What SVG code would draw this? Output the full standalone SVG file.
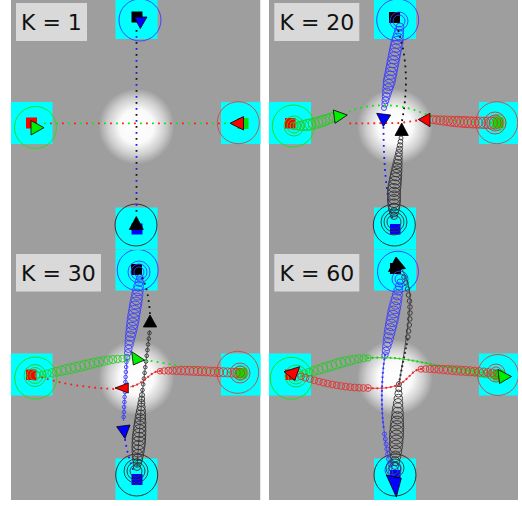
<svg xmlns="http://www.w3.org/2000/svg" width="522" height="506" viewBox="0 0 522 506">
<style>
.bg{fill:#9e9e9e}
.cy{fill:#00ffff}
.lbl rect{fill:#d9d9d9}
.lbl text{font-family:"DejaVu Sans","Liberation Sans",sans-serif;font-size:22px;fill:#111}
.cb{fill:none;stroke:#3b3bff;stroke-width:.9}
.cg{fill:none;stroke:#22cc22;stroke-width:.9}
.cr{fill:none;stroke:#e53030;stroke-width:.9}
.ck{fill:none;stroke:#333;stroke-width:.9}
.Bb{fill:none;stroke:#4444ff;stroke-width:1}
.Bg{fill:none;stroke:#22dd22;stroke-width:1}
.Br{fill:none;stroke:#c05555;stroke-width:1}
.Bk{fill:none;stroke:#333;stroke-width:1}
.qb{fill:#0000ff}.qg{fill:#00e000}.qr{fill:#ff0000}.qk{fill:#000}
.t{stroke:#000;stroke-width:.8;stroke-linejoin:round}
.tb{fill:#0000ff}.tg{fill:#00ee00}.tr{fill:#ff0000}.tk{fill:#000}
.d{fill:none;stroke-width:1.8;stroke-dasharray:1.8 4.2}
.db{stroke:#1a1aff}.dg{stroke:#00ee00}.dr{stroke:#ff1a1a}.dk{stroke:#111}
.l{fill:none;stroke-width:.8}
.p{fill:none;stroke-width:2.3;stroke-linecap:round;stroke-dasharray:0 4.5}
</style>
<defs>
<radialGradient id="glow">
<stop offset="0" stop-color="#fff"/>
<stop offset="0.45" stop-color="#fff" stop-opacity="0.95"/>
<stop offset="0.75" stop-color="#fff" stop-opacity="0.5"/>
<stop offset="1" stop-color="#fff" stop-opacity="0"/>
</radialGradient>
<clipPath id="cTL"><rect x="11" y="0" width="249.5" height="250"/></clipPath>
<clipPath id="cTR"><rect x="269" y="0" width="249" height="250"/></clipPath>
<clipPath id="cBL"><rect x="11" y="250" width="249.5" height="250"/></clipPath>
<clipPath id="cBR"><rect x="269" y="250" width="249" height="250"/></clipPath>
</defs>
<rect width="522" height="506" fill="#fff"/>

<!-- ================= K = 1 ================= -->
<g id="panel-k1" clip-path="url(#cTL)">
<rect class="bg" x="11" y="0" width="249.5" height="250"/>
<circle cx="136.5" cy="126.5" r="38" fill="url(#glow)"/>
<g id="k1-top"><rect class="cy" x="115.5" y="-3" width="42" height="42"/><circle class="Bb" cx="140" cy="20" r="21"/><rect class="qk" x="131.5" y="11.5" width="11" height="11"/></g>
<g id="k1-left"><rect class="cy" x="10.5" y="102" width="42" height="42"/><circle class="Bg" cx="35.5" cy="127.5" r="21"/><rect class="qr" x="26" y="117.5" width="11" height="11"/></g>
<g id="k1-right"><rect class="cy" x="221" y="102" width="42" height="42"/><circle class="Br" cx="238.3" cy="122.7" r="21"/><rect class="qg" x="237.5" y="118" width="11" height="11"/></g>
<g id="k1-bottom"><rect class="cy" x="115.5" y="207.5" width="42" height="42"/><circle class="Bk" cx="136" cy="225" r="21"/><rect class="qb" x="131.5" y="223.5" width="11" height="11"/></g>
<g id="k1-connectors">
<path class="d dk" d="M136.5,30 V216" style="stroke-dasharray:1.8 10.2"/>
<path class="d db" d="M136.5,30 V216" style="stroke-dasharray:1.8 10.2;stroke-dashoffset:6"/>
<path class="d dg" d="M44,123.3 H230" style="stroke-dasharray:1.8 10.2"/>
<path class="d dr" d="M44,123.3 H230" style="stroke-dasharray:1.8 10.2;stroke-dashoffset:6"/>
</g>
<g id="k1-agents">
<polygon class="t tb" points="134.3,17 147,17 140.3,28.5"/>
<polygon class="t tg" points="31,120.5 31,135 44,127.7"/>
<polygon class="t tr" points="230,123.3 243.5,116.5 243.5,130"/>
<polygon class="t tk" points="129.3,229.5 143.3,229.5 136.3,216.5"/>
</g>
<g id="label-k1" class="lbl"><rect x="16" y="3" width="71" height="38"/><text x="21" y="30">K = 1</text></g>
</g>

<!-- ================= K = 20 ================= -->
<g id="panel-k20" clip-path="url(#cTR)">
<rect class="bg" x="269" y="0" width="249" height="250"/>
<circle cx="395" cy="126.5" r="38" fill="url(#glow)"/>
<g id="k20-top"><rect class="cy" x="374" y="-3" width="42" height="42"/><circle class="Bb" cx="397.7" cy="20" r="21"/><rect class="qk" x="389" y="12" width="11" height="11"/></g>
<g id="k20-left"><rect class="cy" x="269" y="102" width="42" height="42"/><circle class="Bg" cx="293.3" cy="126" r="21"/><rect class="qr" x="285" y="118" width="10.5" height="10.5"/></g>
<g id="k20-right"><rect class="cy" x="479" y="102" width="42" height="42"/><circle class="Br" cx="496.7" cy="122.7" r="21"/><rect class="qg" x="493" y="117.5" width="10.5" height="10.5"/></g>
<g id="k20-bottom"><rect class="cy" x="374" y="207.5" width="42" height="42"/><circle class="Bk" cx="394.3" cy="225" r="21"/><rect class="qb" x="390" y="224" width="10.5" height="10.5"/></g>
<g id="k20-connectors">
<circle class="cb" cx="399" cy="21" r="6"/><circle class="cb" cx="399" cy="21" r="9"/>
<circle class="cb" cx="400" cy="27" r="4"/><circle class="cb" cx="399.2" cy="30.9" r="4.5"/><circle class="cb" cx="398.5" cy="34.7" r="5"/><circle class="cb" cx="397.7" cy="38.6" r="5.5"/><circle class="cb" cx="397" cy="42.4" r="6"/><circle class="cb" cx="396.2" cy="46.3" r="6"/><circle class="cb" cx="395.4" cy="50.1" r="6"/><circle class="cb" cx="394.7" cy="54" r="6"/><circle class="cb" cx="393.9" cy="57.9" r="6"/><circle class="cb" cx="393.1" cy="61.7" r="6"/><circle class="cb" cx="392.4" cy="65.6" r="6"/><circle class="cb" cx="391.6" cy="69.4" r="6"/><circle class="cb" cx="390.9" cy="73.3" r="6"/><circle class="cb" cx="390.1" cy="77.1" r="6"/><circle class="cb" cx="389.3" cy="81" r="6"/><circle class="cb" cx="388.6" cy="84.9" r="5.5"/><circle class="cb" cx="387.8" cy="88.7" r="5"/><circle class="cb" cx="387" cy="92.6" r="4.5"/><circle class="cb" cx="386.3" cy="96.4" r="4"/><circle class="cb" cx="385.5" cy="100.3" r="3.5"/><circle class="cb" cx="384.8" cy="104.1" r="3"/><circle class="cb" cx="384" cy="108" r="2.5"/>
<path class="d db" d="M383.5,127 C383.5,160 386,195 393,221"/>
<circle class="ck" cx="394" cy="222" r="7"/><circle class="ck" cx="394" cy="222" r="10"/><circle class="ck" cx="394" cy="222" r="13"/>
<circle class="ck" cx="394" cy="216" r="3.5"/><circle class="ck" cx="394" cy="212.3" r="4.5"/><circle class="ck" cx="394" cy="208.6" r="5.5"/><circle class="ck" cx="394" cy="204.9" r="6"/><circle class="ck" cx="394" cy="201.1" r="6.5"/><circle class="ck" cx="394" cy="197.4" r="6.5"/><circle class="ck" cx="394" cy="193.7" r="6.5"/><circle class="ck" cx="394" cy="190" r="6.5"/><circle class="ck" cx="394.5" cy="186.3" r="6.5"/><circle class="ck" cx="395" cy="182.6" r="6.2"/><circle class="ck" cx="395.5" cy="178.9" r="6"/><circle class="ck" cx="396" cy="175.1" r="5.7"/><circle class="ck" cx="396.5" cy="171.4" r="5.4"/><circle class="ck" cx="397" cy="167.7" r="5"/><circle class="ck" cx="397.5" cy="164" r="4.6"/><circle class="ck" cx="398" cy="160.3" r="4.2"/><circle class="ck" cx="398.5" cy="156.6" r="3.8"/><circle class="ck" cx="399" cy="152.9" r="3.4"/><circle class="ck" cx="399.5" cy="149.1" r="3"/><circle class="ck" cx="400" cy="145.4" r="2.7"/><circle class="ck" cx="400.5" cy="141.7" r="2.4"/><circle class="ck" cx="401" cy="138" r="2"/>
<path class="d dk" d="M402,121 C407,95 409,60 397,27"/>
<circle class="cg" cx="294" cy="126" r="4"/><circle class="cg" cx="294" cy="126" r="7"/><circle class="cg" cx="294" cy="126" r="10"/>
<circle class="cg" cx="297" cy="126" r="4"/><circle class="cg" cx="300.4" cy="125.8" r="4.5"/><circle class="cg" cx="303.7" cy="125.5" r="5"/><circle class="cg" cx="307.1" cy="125" r="5.5"/><circle class="cg" cx="310.5" cy="124.4" r="5.5"/><circle class="cg" cx="313.8" cy="123.6" r="5.5"/><circle class="cg" cx="317.2" cy="122.7" r="5.5"/><circle class="cg" cx="320.5" cy="121.7" r="5.5"/><circle class="cg" cx="323.9" cy="120.6" r="5.5"/><circle class="cg" cx="327.3" cy="119.4" r="5.2"/><circle class="cg" cx="330.6" cy="118.2" r="5"/><circle class="cg" cx="334" cy="117" r="4.8"/>
<path class="d dg" d="M349,112 C365,104 395,102 420,112 C440,120 470,123 495,123"/>
<circle class="cg" cx="498" cy="122.5" r="4"/><circle class="cg" cx="498" cy="122.5" r="6"/><circle class="cg" cx="498" cy="122.5" r="8"/>
<circle class="cr" cx="495" cy="123" r="8"/><circle class="cr" cx="495" cy="123" r="11"/>
<circle class="cr" cx="495" cy="123" r="6"/><circle class="cr" cx="491.4" cy="123" r="6"/><circle class="cr" cx="487.7" cy="122.9" r="5.8"/><circle class="cr" cx="484.1" cy="122.8" r="5.7"/><circle class="cr" cx="480.4" cy="122.7" r="5.6"/><circle class="cr" cx="476.8" cy="122.6" r="5.5"/><circle class="cr" cx="473.1" cy="122.5" r="5.5"/><circle class="cr" cx="469.5" cy="122.3" r="5.5"/><circle class="cr" cx="465.8" cy="122.1" r="5.5"/><circle class="cr" cx="462.2" cy="121.9" r="5.4"/><circle class="cr" cx="458.5" cy="121.7" r="5.3"/><circle class="cr" cx="454.9" cy="121.5" r="5.2"/><circle class="cr" cx="451.2" cy="121.2" r="5"/><circle class="cr" cx="447.6" cy="120.9" r="4.8"/><circle class="cr" cx="443.9" cy="120.6" r="4.6"/><circle class="cr" cx="440.3" cy="120.3" r="4.4"/><circle class="cr" cx="436.6" cy="120" r="4.2"/><circle class="cr" cx="433" cy="119.6" r="4"/>
<path class="d dr" d="M417,120.5 L400,123 L348,123.5"/>
</g>
<g id="k20-agents">
<polygon class="t tb" points="376.7,113.3 390.7,115 383.3,126.5"/>
<polygon class="t tk" points="395,135.5 408.3,135.5 401.7,123"/>
<polygon class="t tg" points="333.3,110 335,123.3 347.3,115"/>
<polygon class="t tr" points="418.3,119.5 430,113.3 430,126.7"/>
</g>
<g id="label-k20" class="lbl"><rect x="274.3" y="3" width="85" height="38"/><text x="279.5" y="30">K = 20</text></g>
</g>

<!-- ================= K = 30 ================= -->
<g id="panel-k30" clip-path="url(#cBL)">
<rect class="bg" x="11" y="250" width="249.5" height="250"/>
<circle cx="136.5" cy="377.5" r="38" fill="url(#glow)"/>
<g id="k30-top"><rect class="cy" x="115.5" y="248.5" width="42" height="42"/><circle class="Bb" cx="137.7" cy="270" r="20.5"/><rect class="qk" x="131" y="264" width="11" height="11"/></g>
<g id="k30-left"><rect class="cy" x="10.5" y="353.5" width="42" height="42"/><circle class="Bg" cx="35.7" cy="378" r="21"/><rect class="qr" x="26" y="369.5" width="10.5" height="10.5"/></g>
<g id="k30-right"><rect class="cy" x="221" y="353.5" width="42" height="42"/><circle class="Br" cx="237.7" cy="372.3" r="21"/><rect class="qg" x="236" y="368" width="10.5" height="10.5"/></g>
<g id="k30-bottom"><rect class="cy" x="115.5" y="458.5" width="42" height="42"/><circle class="Bk" cx="136.7" cy="475" r="21"/><rect class="qb" x="131.5" y="474" width="11" height="11"/></g>
<g id="k30-connectors">
<circle class="cb" cx="139" cy="272" r="5"/><circle class="cb" cx="139" cy="272" r="8"/><circle class="cb" cx="139" cy="272" r="11"/>
<circle class="cb" cx="140" cy="278" r="3.5"/><circle class="cb" cx="139.3" cy="282.2" r="4.2"/><circle class="cb" cx="138.6" cy="286.3" r="4.8"/><circle class="cb" cx="137.9" cy="290.5" r="5.3"/><circle class="cb" cx="137.3" cy="294.6" r="5.6"/><circle class="cb" cx="136.6" cy="298.8" r="5.8"/><circle class="cb" cx="135.9" cy="303" r="6"/><circle class="cb" cx="135.2" cy="307.1" r="6"/><circle class="cb" cx="134.5" cy="311.3" r="6"/><circle class="cb" cx="133.8" cy="315.4" r="6"/><circle class="cb" cx="133.2" cy="319.6" r="6"/><circle class="cb" cx="132.5" cy="323.7" r="5.8"/><circle class="cb" cx="131.8" cy="327.9" r="5.6"/><circle class="cb" cx="131.1" cy="332.1" r="5.3"/><circle class="cb" cx="130.4" cy="336.2" r="5"/><circle class="cb" cx="129.7" cy="340.4" r="4.6"/><circle class="cb" cx="129.1" cy="344.5" r="4.2"/><circle class="cb" cx="128.4" cy="348.7" r="3.8"/><circle class="cb" cx="127.7" cy="352.8" r="3.3"/><circle class="cb" cx="127" cy="357" r="2.8"/>
<path class="l" stroke="#3b3bff" d="M127,357 L123.5,421"/>
<circle class="cb" cx="126.4" cy="362" r="1.8"/><circle class="cb" cx="126.1" cy="367" r="1.8"/><circle class="cb" cx="125.9" cy="372" r="1.8"/><circle class="cb" cx="125.6" cy="377" r="1.8"/><circle class="cb" cx="125.4" cy="382" r="1.8"/><circle class="cb" cx="125.1" cy="387" r="1.8"/><circle class="cb" cx="124.9" cy="392" r="1.8"/><circle class="cb" cx="124.6" cy="397" r="1.8"/><circle class="cb" cx="124.4" cy="402" r="1.8"/><circle class="cb" cx="124.1" cy="407" r="1.8"/><circle class="cb" cx="123.9" cy="412" r="1.8"/><circle class="cb" cx="123.6" cy="417" r="1.8"/>
<path class="d db" d="M125,439 C127,452 130,462 134,472"/>
<circle class="ck" cx="136" cy="471" r="6"/><circle class="ck" cx="136" cy="471" r="9"/><circle class="ck" cx="136" cy="471" r="12"/>
<circle class="ck" cx="137" cy="467" r="3.5"/><circle class="ck" cx="137.3" cy="463" r="4.2"/><circle class="ck" cx="137.6" cy="459" r="5"/><circle class="ck" cx="137.8" cy="455" r="5.6"/><circle class="ck" cx="138.1" cy="451" r="6.1"/><circle class="ck" cx="138.4" cy="447" r="6.5"/><circle class="ck" cx="138.7" cy="443" r="6.7"/><circle class="ck" cx="138.9" cy="439" r="6.7"/><circle class="ck" cx="139.2" cy="435" r="6.6"/><circle class="ck" cx="139.5" cy="431" r="6.4"/><circle class="ck" cx="139.8" cy="427" r="6.1"/><circle class="ck" cx="140.1" cy="423" r="5.8"/><circle class="ck" cx="140.3" cy="419" r="5.4"/><circle class="ck" cx="140.6" cy="415" r="5"/><circle class="ck" cx="140.9" cy="411" r="4.5"/><circle class="ck" cx="141.2" cy="407" r="4"/><circle class="ck" cx="141.4" cy="403" r="3.5"/><circle class="ck" cx="141.7" cy="399" r="3"/><circle class="ck" cx="142" cy="395" r="2.5"/>
<path class="l" stroke="#333" d="M137,467 L142,395 L149.8,330"/>
<circle class="ck" cx="142.5" cy="390" r="1.8"/><circle class="ck" cx="143.2" cy="384.3" r="1.8"/><circle class="ck" cx="143.9" cy="378.6" r="1.8"/><circle class="ck" cx="144.6" cy="372.9" r="1.8"/><circle class="ck" cx="145.3" cy="367.2" r="1.8"/><circle class="ck" cx="146" cy="361.5" r="1.8"/><circle class="ck" cx="146.7" cy="355.8" r="1.8"/><circle class="ck" cx="147.4" cy="350.1" r="1.8"/><circle class="ck" cx="148.1" cy="344.4" r="1.8"/><circle class="ck" cx="148.8" cy="338.7" r="1.8"/><circle class="ck" cx="149.5" cy="333" r="1.8"/>
<path class="d dk" d="M150,314 C149,300 147,285 141,276"/>
<circle class="cg" cx="35" cy="375.5" r="5"/><circle class="cg" cx="35" cy="375.5" r="8"/><circle class="cg" cx="35" cy="375.5" r="11"/>
<circle class="cg" cx="38" cy="375" r="3"/><circle class="cg" cx="42.7" cy="374.4" r="3.4"/><circle class="cg" cx="47.4" cy="373.6" r="3.8"/><circle class="cg" cx="52.1" cy="372.7" r="4.2"/><circle class="cg" cx="56.7" cy="371.7" r="4.5"/><circle class="cg" cx="61.4" cy="370.7" r="4.8"/><circle class="cg" cx="66.1" cy="369.6" r="5"/><circle class="cg" cx="70.8" cy="368.5" r="5"/><circle class="cg" cx="75.5" cy="367.4" r="5"/><circle class="cg" cx="80.2" cy="366.3" r="5"/><circle class="cg" cx="84.8" cy="365.2" r="5"/><circle class="cg" cx="89.5" cy="364.1" r="4.9"/><circle class="cg" cx="94.2" cy="363" r="4.8"/><circle class="cg" cx="98.9" cy="362" r="4.6"/><circle class="cg" cx="103.6" cy="361" r="4.4"/><circle class="cg" cx="108.3" cy="360.2" r="4.2"/><circle class="cg" cx="112.9" cy="359.5" r="4"/><circle class="cg" cx="117.6" cy="359" r="3.7"/><circle class="cg" cx="122.3" cy="358.6" r="3.4"/><circle class="cg" cx="127" cy="358.5" r="3.1"/>
<path class="d dg" d="M145,360 C170,364 200,369 236,373"/>
<circle class="cg" cx="241" cy="373" r="4"/><circle class="cg" cx="241" cy="373" r="7"/>
<circle class="cr" cx="240" cy="373" r="7"/><circle class="cr" cx="240" cy="373" r="10"/>
<circle class="cr" cx="240" cy="373" r="4.5"/><circle class="cr" cx="235.8" cy="372.8" r="4.5"/><circle class="cr" cx="231.6" cy="372.6" r="4.5"/><circle class="cr" cx="227.4" cy="372.4" r="4.5"/><circle class="cr" cx="223.2" cy="372.2" r="4.5"/><circle class="cr" cx="218.9" cy="372" r="4.5"/><circle class="cr" cx="214.7" cy="371.8" r="4.5"/><circle class="cr" cx="210.5" cy="371.6" r="4.5"/><circle class="cr" cx="206.3" cy="371.4" r="4.5"/><circle class="cr" cx="202.1" cy="371.2" r="4.5"/><circle class="cr" cx="197.9" cy="371" r="4.5"/><circle class="cr" cx="193.7" cy="370.9" r="4.5"/><circle class="cr" cx="189.5" cy="370.8" r="4.4"/><circle class="cr" cx="185.3" cy="370.7" r="4.3"/><circle class="cr" cx="181.1" cy="370.6" r="4.2"/><circle class="cr" cx="176.8" cy="370.6" r="4"/><circle class="cr" cx="172.6" cy="370.6" r="3.8"/><circle class="cr" cx="168.4" cy="370.7" r="3.5"/><circle class="cr" cx="164.2" cy="370.9" r="3.2"/><circle class="cr" cx="160" cy="371.2" r="2.8"/>
<path class="l" stroke="#e53030" d="M160,371 C150,371 145,384 130,387"/>
<path class="p" stroke="#e53030" d="M160,371 C150,371 145,384 130,387"/>
<path class="d dr" d="M114,389 C90,388 60,384 38,376"/>
</g>
<g id="k30-agents">
<polygon class="t tb" points="116.7,426.7 130,425 125,438.5"/>
<polygon class="t tk" points="143.3,327 156.7,327 150,315"/>
<polygon class="t tg" points="131.7,351.7 133.3,365 144.5,360"/>
<polygon class="t tr" points="115,388 128.3,383 128.3,393"/>
</g>
<g id="label-k30" class="lbl"><rect x="16" y="254" width="85" height="37.5"/><text x="21" y="281.3">K = 30</text></g>
</g>

<!-- ================= K = 60 ================= -->
<g id="panel-k60" clip-path="url(#cBR)">
<rect class="bg" x="269" y="250" width="249" height="250"/>
<circle cx="395" cy="377.5" r="38" fill="url(#glow)"/>
<g id="k60-top"><rect class="cy" x="374" y="248.5" width="42" height="42"/><circle class="Bb" cx="398" cy="271.7" r="20.5"/><rect class="qk" x="390" y="263" width="11" height="11"/></g>
<g id="k60-left"><rect class="cy" x="269" y="353.5" width="42" height="42"/><circle class="Bg" cx="291.3" cy="378.3" r="21"/><rect class="qr" x="285" y="369.5" width="10.5" height="10.5"/></g>
<g id="k60-right"><rect class="cy" x="479" y="353.5" width="42" height="42"/><circle class="Br" cx="498" cy="375" r="20.5"/><rect class="qg" x="493" y="370" width="10.5" height="10.5"/></g>
<g id="k60-bottom"><rect class="cy" x="374" y="458.5" width="42" height="42"/><circle class="Bk" cx="395" cy="475" r="21"/><rect class="qb" x="390" y="470" width="10.5" height="10.5"/></g>
<g id="k60-connectors">
<circle class="cb" cx="400" cy="279" r="5"/><circle class="cb" cx="400" cy="279" r="8"/>
<circle class="cb" cx="400" cy="282" r="3"/><circle class="cb" cx="399.1" cy="286.3" r="3.8"/><circle class="cb" cx="398.2" cy="290.6" r="4.5"/><circle class="cb" cx="397.4" cy="294.9" r="5"/><circle class="cb" cx="396.5" cy="299.2" r="5.4"/><circle class="cb" cx="395.6" cy="303.5" r="5.7"/><circle class="cb" cx="394.7" cy="307.8" r="5.9"/><circle class="cb" cx="393.8" cy="312" r="6"/><circle class="cb" cx="393" cy="316.3" r="6"/><circle class="cb" cx="392.1" cy="320.6" r="6"/><circle class="cb" cx="391.2" cy="324.9" r="5.8"/><circle class="cb" cx="390.3" cy="329.2" r="5.6"/><circle class="cb" cx="389.4" cy="333.5" r="5.3"/><circle class="cb" cx="388.6" cy="337.8" r="5"/><circle class="cb" cx="387.7" cy="342.1" r="4.6"/><circle class="cb" cx="386.8" cy="346.4" r="4.2"/><circle class="cb" cx="385.9" cy="350.7" r="3.7"/><circle class="cb" cx="385" cy="355" r="3.2"/>
<path class="l" stroke="#3b3bff" d="M385,355 C381,380 381,410 384,430 C386,450 390,465 395,480"/>
<path class="p" stroke="#3b3bff" d="M385,355 C381,380 381,410 384,430"/>
<circle class="cb" cx="384.5" cy="434" r="2"/><circle class="cb" cx="385.3" cy="439" r="2"/><circle class="cb" cx="386.1" cy="444" r="2"/><circle class="cb" cx="387" cy="449" r="2.2"/><circle class="cb" cx="388" cy="454" r="2.4"/><circle class="cb" cx="389.2" cy="459" r="2.6"/><circle class="cb" cx="390.6" cy="464" r="2.8"/>
<circle class="cb" cx="393" cy="470" r="5"/><circle class="cb" cx="393" cy="470" r="8"/>
<circle class="ck" cx="395" cy="468" r="6"/><circle class="ck" cx="395" cy="468" r="9"/>
<circle class="ck" cx="395" cy="466" r="3.5"/><circle class="ck" cx="395.2" cy="461.2" r="4.5"/><circle class="ck" cx="395.5" cy="456.4" r="5.3"/><circle class="ck" cx="395.7" cy="451.5" r="6"/><circle class="ck" cx="395.9" cy="446.7" r="6.5"/><circle class="ck" cx="396.2" cy="441.9" r="6.8"/><circle class="ck" cx="396.4" cy="437.1" r="7"/><circle class="ck" cx="396.6" cy="432.2" r="7"/><circle class="ck" cx="396.9" cy="427.4" r="6.8"/><circle class="ck" cx="397.1" cy="422.6" r="6.5"/><circle class="ck" cx="397.4" cy="417.8" r="6.1"/><circle class="ck" cx="397.6" cy="412.9" r="5.7"/><circle class="ck" cx="397.8" cy="408.1" r="5.2"/><circle class="ck" cx="398.1" cy="403.3" r="4.7"/><circle class="ck" cx="398.3" cy="398.5" r="4.2"/><circle class="ck" cx="398.5" cy="393.6" r="3.6"/><circle class="ck" cx="398.8" cy="388.8" r="3"/><circle class="ck" cx="399" cy="384" r="2.5"/>
<path class="l" stroke="#333" d="M399,384 C403,360 408,330 410,305 C411,290 407,278 402,270"/>
<path class="p" stroke="#333" d="M399,384 C403,360 407,345 408,337"/>
<circle class="ck" cx="404" cy="277" r="2.3"/><circle class="ck" cx="406" cy="283" r="2.3"/><circle class="ck" cx="407.5" cy="289" r="2.3"/><circle class="ck" cx="408.5" cy="295" r="2.3"/><circle class="ck" cx="409.5" cy="301" r="2.3"/><circle class="ck" cx="410" cy="307" r="2.3"/><circle class="ck" cx="410" cy="313" r="2.3"/><circle class="ck" cx="409.8" cy="319" r="2.3"/><circle class="ck" cx="409.3" cy="325" r="2.3"/><circle class="ck" cx="408.6" cy="331" r="2.3"/><circle class="ck" cx="407.8" cy="337" r="2.3"/>
<circle class="cg" cx="296" cy="376" r="5"/><circle class="cg" cx="296" cy="376" r="8"/><circle class="cg" cx="296" cy="376" r="11"/>
<circle class="cg" cx="300" cy="374" r="3"/><circle class="cg" cx="304.5" cy="373.2" r="3.5"/><circle class="cg" cx="309.1" cy="372.2" r="4"/><circle class="cg" cx="313.6" cy="371" r="4.4"/><circle class="cg" cx="318.1" cy="369.7" r="4.7"/><circle class="cg" cx="322.7" cy="368.3" r="5"/><circle class="cg" cx="327.2" cy="366.9" r="5"/><circle class="cg" cx="331.7" cy="365.5" r="5"/><circle class="cg" cx="336.3" cy="364.1" r="5"/><circle class="cg" cx="340.8" cy="362.8" r="5"/><circle class="cg" cx="345.3" cy="361.6" r="4.8"/><circle class="cg" cx="349.9" cy="360.5" r="4.6"/><circle class="cg" cx="354.4" cy="359.5" r="4.3"/><circle class="cg" cx="358.9" cy="358.7" r="4"/><circle class="cg" cx="363.5" cy="358.2" r="3.6"/><circle class="cg" cx="368" cy="358" r="3.2"/>
<path class="l" stroke="#22cc22" d="M368,358 C385,357 400,358 415,361 C440,366 470,371 500,375"/>
<path class="p" stroke="#22cc22" d="M368,358 C385,357 400,358 415,361 C430,364 440,366 448,368"/>
<circle class="cg" cx="450" cy="368.5" r="2.5"/><circle class="cg" cx="454.4" cy="369.2" r="2.7"/><circle class="cg" cx="458.7" cy="369.9" r="2.9"/><circle class="cg" cx="463.1" cy="370.6" r="3.1"/><circle class="cg" cx="467.5" cy="371.3" r="3.3"/><circle class="cg" cx="471.8" cy="372" r="3.5"/><circle class="cg" cx="476.2" cy="372.6" r="3.6"/><circle class="cg" cx="480.5" cy="373.3" r="3.7"/><circle class="cg" cx="484.9" cy="373.9" r="3.8"/><circle class="cg" cx="489.3" cy="374.5" r="3.8"/><circle class="cg" cx="493.6" cy="375.2" r="3.8"/><circle class="cg" cx="498" cy="375.8" r="3.8"/>
<circle class="cr" cx="496" cy="373" r="6"/><circle class="cr" cx="496" cy="373" r="9"/>
<circle class="cr" cx="497" cy="373" r="3.5"/><circle class="cr" cx="492.5" cy="372.8" r="3.8"/><circle class="cr" cx="488.1" cy="372.5" r="4"/><circle class="cr" cx="483.6" cy="372.2" r="4.2"/><circle class="cr" cx="479.1" cy="371.9" r="4.3"/><circle class="cr" cx="474.6" cy="371.6" r="4.4"/><circle class="cr" cx="470.2" cy="371.3" r="4.5"/><circle class="cr" cx="465.7" cy="371" r="4.5"/><circle class="cr" cx="461.2" cy="370.7" r="4.5"/><circle class="cr" cx="456.8" cy="370.4" r="4.5"/><circle class="cr" cx="452.3" cy="370.1" r="4.4"/><circle class="cr" cx="447.8" cy="369.8" r="4.3"/><circle class="cr" cx="443.4" cy="369.5" r="4.2"/><circle class="cr" cx="438.9" cy="369.3" r="4"/><circle class="cr" cx="434.4" cy="369.1" r="3.8"/><circle class="cr" cx="429.9" cy="369" r="3.6"/><circle class="cr" cx="425.5" cy="369" r="3.3"/><circle class="cr" cx="421" cy="369.2" r="3"/>
<path class="l" stroke="#e53030" d="M421,369 C412,370 410,378 400,384 C392,388 380,389 368,388"/>
<path class="p" stroke="#e53030" d="M421,369 C412,370 410,378 400,384 C392,388 380,389 368,388"/>
<circle class="cr" cx="368" cy="388" r="3.4"/><circle class="cr" cx="363.5" cy="388" r="3.4"/><circle class="cr" cx="359.1" cy="387.8" r="3.4"/><circle class="cr" cx="354.6" cy="387.5" r="3.4"/><circle class="cr" cx="350.1" cy="387.1" r="3.4"/><circle class="cr" cx="345.7" cy="386.6" r="3.4"/><circle class="cr" cx="341.2" cy="386" r="3.4"/><circle class="cr" cx="336.7" cy="385.3" r="3.4"/><circle class="cr" cx="332.3" cy="384.5" r="3.4"/><circle class="cr" cx="327.8" cy="383.6" r="3.4"/><circle class="cr" cx="323.3" cy="382.6" r="3.4"/><circle class="cr" cx="318.9" cy="381.5" r="3.4"/><circle class="cr" cx="314.4" cy="380.3" r="3.4"/><circle class="cr" cx="309.9" cy="379" r="3.4"/><circle class="cr" cx="305.5" cy="377.7" r="3.4"/><circle class="cr" cx="301" cy="376.3" r="3.4"/>
</g>
<g id="k60-agents">
<polygon class="t tk" points="388.5,271.5 405.5,268.5 396,257"/>
<polygon class="t tb" points="386.3,475 401.3,478.3 396.3,497"/>
<polygon class="t tr" points="284,371.7 299.7,366.7 294.7,380.5"/>
<polygon class="t tg" points="498,369.5 499.5,383.5 511.5,376.5"/>
</g>
<g id="label-k60" class="lbl"><rect x="274.3" y="254" width="85" height="37.5"/><text x="279.5" y="281.3">K = 60</text></g>
</g>
</svg>
